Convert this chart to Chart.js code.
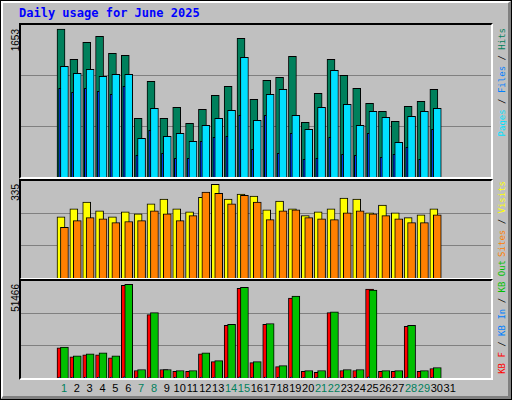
<!DOCTYPE html>
<html><head><meta charset="utf-8">
<script src="https://cdn.jsdelivr.net/npm/chart.js@4"></script>
<style>
body{margin:0;background:#c0c0c0;}
#frame{position:absolute;left:0;top:0;width:510px;height:398px;border:1px solid #000;background:#c0c0c0;}
#bevel{position:absolute;left:0;top:0;width:505px;height:393px;border-top:2px solid #fff;border-left:2px solid #fff;border-right:3px solid #808080;border-bottom:3px solid #808080;}
.panel{position:absolute;left:19px;width:470px;border-top:2px solid #000;border-left:2px solid #000;border-right:2px solid #fff;border-bottom:2px solid #fff;}
.panel canvas{position:absolute;left:0;top:0;}
.vt{position:absolute;writing-mode:vertical-rl;transform:rotate(180deg);white-space:nowrap;}
.lg{font:9px "DejaVu Sans Mono",monospace;}
.yl{font:10px "Liberation Sans",sans-serif;color:#000;}
#title{position:absolute;left:19px;top:6px;font:bold 12px "DejaVu Sans Mono",monospace;color:#0000ff;}
.day{position:absolute;top:382px;font:11px "Liberation Sans",sans-serif;transform:translateX(-50%);}
</style></head><body>
<div id="frame"><div id="bevel"></div></div>
<div id="title">Daily usage for June 2025</div>
<div class="panel" style="top:23px;height:152px"><canvas id="c1" width="470" height="152"></canvas></div>
<div class="panel" style="top:179px;height:97px"><canvas id="c2" width="470" height="97"></canvas></div>
<div class="panel" style="top:279px;height:97px"><canvas id="c3" width="470" height="97"></canvas></div>
<div class="vt yl" style="left:10px;top:29px">1653</div>
<div class="vt yl" style="left:10px;top:184px">335</div>
<div class="vt yl" style="left:10px;top:284px">51466</div>
<div class="vt lg" style="left:497px;top:28px"><span style="color:#00e0ff">Pages</span><span style="color:#000"> / </span><span style="color:#0080ff">Files</span><span style="color:#000"> / </span><span style="color:#00805c">Hits</span></div>
<div class="vt lg" style="left:497px;top:181px"><span style="color:#ff8000">Sites</span><span style="color:#000"> / </span><span style="color:#ffff00">Visits</span></div>
<div class="vt lg" style="left:497px;top:260px"><span style="color:#ff0000">KB F</span><span style="color:#000"> / </span><span style="color:#0080ff">KB In</span><span style="color:#000"> / </span><span style="color:#00c000">KB Out</span></div>
<div id="days"></div>
<script>
const days = Array.from({length:31},(_,i)=>i+1);
const weekend = [1,7,8,14,15,21,22,28,29];
const hits  = [1653,1315,1504,1571,1382,1359,656,1069,656,778,600,756,912,1013,1549,868,1080,1114,1348,611,935,1315,1136,991,823,734,622,790,846,980,0];
const files = [1236,1158,1203,1125,1147,1147,432,767,455,488,399,577,656,745,1337,633,924,980,689,533,778,1192,812,577,734,667,388,678,734,767,0];
const pages = [991,946,991,957,924,1013,242,522,265,209,209,399,443,455,689,309,689,265,488,198,209,443,254,242,488,220,254,332,198,533,0];
const visits= [219,247,272,240,219,237,230,265,282,247,237,289,335,282,300,293,244,275,247,223,237,247,286,282,233,261,233,216,226,247,0];
const sites = [181,205,216,212,198,202,205,240,230,205,223,307,303,265,296,272,209,240,244,216,212,209,233,240,230,223,212,198,198,226,0];
const kbF   = [16510,11670,12750,12750,11130,50930,4140,34800,4680,3600,3600,13280,8980,28880,49310,8440,29420,6290,43940,3600,3060,35870,4140,4140,48780,3600,3600,28340,3600,5220,0];
const kbIn  = [500,400,400,400,400,600,300,500,300,300,300,400,400,500,600,400,500,300,500,300,300,500,300,300,600,300,300,500,300,400,0];
const kbOut = [17050,12210,13280,13820,12210,51466,4680,35870,4680,4140,4140,13820,9520,29420,49850,8980,29950,6830,45010,4140,4140,36410,4680,4680,48240,4140,4140,28880,4140,5750,0];

function ds(vals, off, color, w, order){
  return {data: vals.map((v,i)=>({x:days[i]+off,y:v})).filter(p=>p.y>0), backgroundColor:color,
    borderColor:'#000', borderWidth:1, barThickness:w, grouped:false, order:order, borderSkipped:'bottom'};
}
function make(id, datasets, max){
  return new Chart(document.getElementById(id), {
    type:'bar', data:{datasets},
    options:{responsive:false, animation:false, devicePixelRatio:1,
      layout:{padding:0},
      plugins:{legend:{display:false}, tooltip:{enabled:false}},
      scales:{
        x:{type:'linear', min:0.5, max:31.8333, display:false},
        y:{min:0, max:max, display:true, afterFit:s=>{s.width=0;},
           afterBuildTicks:s=>{s.ticks=[{value:max/3},{value:2*max/3}];},
           ticks:{display:false}, border:{display:false},
           grid:{color:'#808080', lineWidth:1, drawTicks:false}}
      }}
  });
}
make('c1',[ds(hits,0,'#00805c',8,3), ds(pages,-0.03,'#0040ff',4,2), ds(files,4/15,'#00e0ff',8,1)],1698);
make('c2',[ds(visits,0,'#ffff00',8,2), ds(sites,4/15,'#ff8000',8,1)],347);
const c3 = make('c3',[ds(kbF,0,'#ff0000',8,3), ds(kbIn,-0.07,'#0080ff',3,2), ds(kbOut,4/15,'#00c000',8,1)],53280);
const box = document.getElementById('days');
days.forEach(d=>{
  const el=document.createElement('div'); el.className='day'; el.textContent=d;
  el.style.color = weekend.includes(d)?'#00805c':'#000';
  el.style.left = (21 + c3.scales.x.getPixelForValue(d+0.23))+'px';
  box.appendChild(el);
});
</script></body></html>
